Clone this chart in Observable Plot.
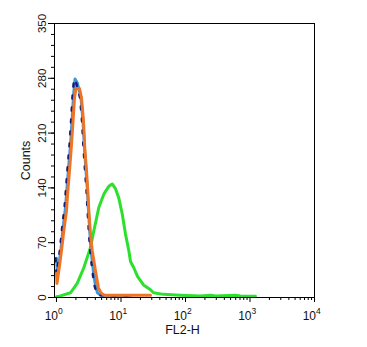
<!DOCTYPE html>
<html>
<head>
<meta charset="utf-8">
<script src="https://cdn.jsdelivr.net/npm/d3@7"></script>
<script src="https://cdn.jsdelivr.net/npm/@observablehq/plot@0.6"></script>
<style>
  html, body { margin: 0; padding: 0; background: #fff; }
</style>
</head>
<body>
<div id="chart"></div>
<script>
// ---- data ----
const blueX = [1.0, 1.036, 1.093, 1.174, 1.261, 1.379, 1.455, 1.535, 1.648, 1.739, 1.835, 1.936, 2.079, 2.193, 2.399, 2.576, 2.718, 2.868, 3.025, 3.134, 3.307, 3.488, 3.747, 4.024, 4.322, 4.81, 14.0];
const blueY = [50, 30, 42, 62, 88, 115, 140, 165, 195, 225, 258, 279, 275, 268, 255, 225, 190, 162, 136, 111, 80, 55, 32, 15, 6, 3, 2];

const orangeX = [1.0, 1.018, 1.086, 1.195, 1.297, 1.429, 1.497, 1.591, 1.708, 1.803, 1.901, 2.006, 2.273, 2.441, 2.622, 2.747, 2.918, 3.057, 3.168, 3.366, 3.577, 4.024, 4.478, 4.985, 5.55, 28.7];
const orangeY = [31, 18, 34, 60, 85, 111, 136, 162, 195, 225, 255, 267, 267, 255, 225, 190, 162, 136, 111, 80, 60, 34, 12, 5, 3, 3];

const greenX = [1.0, 1.153, 1.648, 2.094, 2.651, 3.366, 3.787, 4.527, 5.413, 6.469, 7.303, 8.217, 9.246, 10.44, 11.74, 13.21, 14.04, 15.79, 18.02, 22.33, 28.7, 31.9, 45.6, 83.7, 171, 244, 292, 596, 712, 1217];
const greenY = [1, 2, 6, 18, 38, 64, 85, 115, 132, 142, 145, 139, 127, 107, 81, 60, 46, 38, 27, 16, 10, 6, 4, 3, 2, 3, 2, 3, 2, 1.5];

const yMajor = [0, 70, 140, 210, 280, 350];
const yMinor = d3.range(0, 351, 14);
const xMajor = [1, 10, 100, 1000, 10000];
const xExp = ["0", "1", "2", "3", "4"];
const xMinor = [1, 10, 100, 1000].flatMap(d => [2, 3, 4, 5, 6, 7, 8, 9].map(k => k * d));

const xLabel = "FL2-H";
const yLabel = "Counts";

const toRows = (xs, ys) => xs.map((x, i) => ({x, y: ys[i]}));
const blue = toRows(blueX, blueY);
const orange = toRows(orangeX, orangeY);
const green = toRows(greenX, greenY);
const majors = xMajor.map((x, i) => ({x, e: xExp[i]}));

const FONT = "'Liberation Sans', Arial, Helvetica, sans-serif";

const chart = Plot.plot({
  width: 367,
  height: 347,
  marginLeft: 54,
  marginRight: 53,
  marginTop: 23,
  marginBottom: 50,
  insetLeft: 2,
  style: {fontFamily: FONT, fontSize: "11.5px", background: "#fff", color: "#000", overflow: "visible"},
  x: {type: "log", domain: [1, 10000], label: null},
  y: {domain: [0, 350], label: null},
  marks: [
    Plot.line(green, {x: "x", y: "y", stroke: "#2ee02e", strokeWidth: 3, strokeLinejoin: "round"}),
    Plot.line(blue, {x: "x", y: "y", stroke: "#3b97d9", strokeWidth: 3}),
    Plot.line(blue, {x: "x", y: "y", stroke: "#1b1a78", strokeWidth: 2.4, strokeDasharray: "3,9", dx: -1}),
    Plot.line(orange, {x: "x", y: "y", stroke: "#ee7526", strokeWidth: 3, strokeLinejoin: "round"}),
    Plot.frame({stroke: "#000", strokeWidth: 1}),
    Plot.axisY(yMajor, {tickSize: 6, tickFormat: () => "", stroke: "#000", label: null}),
    Plot.axisY(yMinor, {tickSize: 3, tickFormat: () => "", stroke: "#000", label: null}),
    Plot.text(yMajor, {y: d => d, text: d => String(d), frameAnchor: "left", dx: -9, rotate: -90, lineAnchor: "bottom", textAnchor: "middle", fill: "#111"}),
    Plot.axisX(xMajor, {tickSize: 5, tickFormat: () => "", stroke: "#000", label: null}),
    Plot.axisX(xMinor, {tickSize: 3, tickFormat: () => "", stroke: "#000", label: null}),
    Plot.text(majors, {x: "x", text: () => "10", frameAnchor: "bottom", dx: 1.5, dy: 22, textAnchor: "end", lineAnchor: "bottom", fontSize: 12, fill: "#111"}),
    Plot.text(majors, {x: "x", text: "e", frameAnchor: "bottom", dx: 1.5, dy: 16, textAnchor: "start", lineAnchor: "bottom", fontSize: 8.5, fill: "#111"}),
    Plot.text([yLabel], {text: d => d, frameAnchor: "left", dx: -25, rotate: -90, lineAnchor: "bottom", textAnchor: "middle", fontSize: 12.5, fill: "#111"}),
    Plot.text([xLabel], {text: d => d, frameAnchor: "bottom", dx: -2, dy: 36, lineAnchor: "bottom", textAnchor: "middle", fontSize: 12.5, fill: "#111"})
  ]
});
document.getElementById("chart").appendChild(chart);
</script>
</body>
</html>
